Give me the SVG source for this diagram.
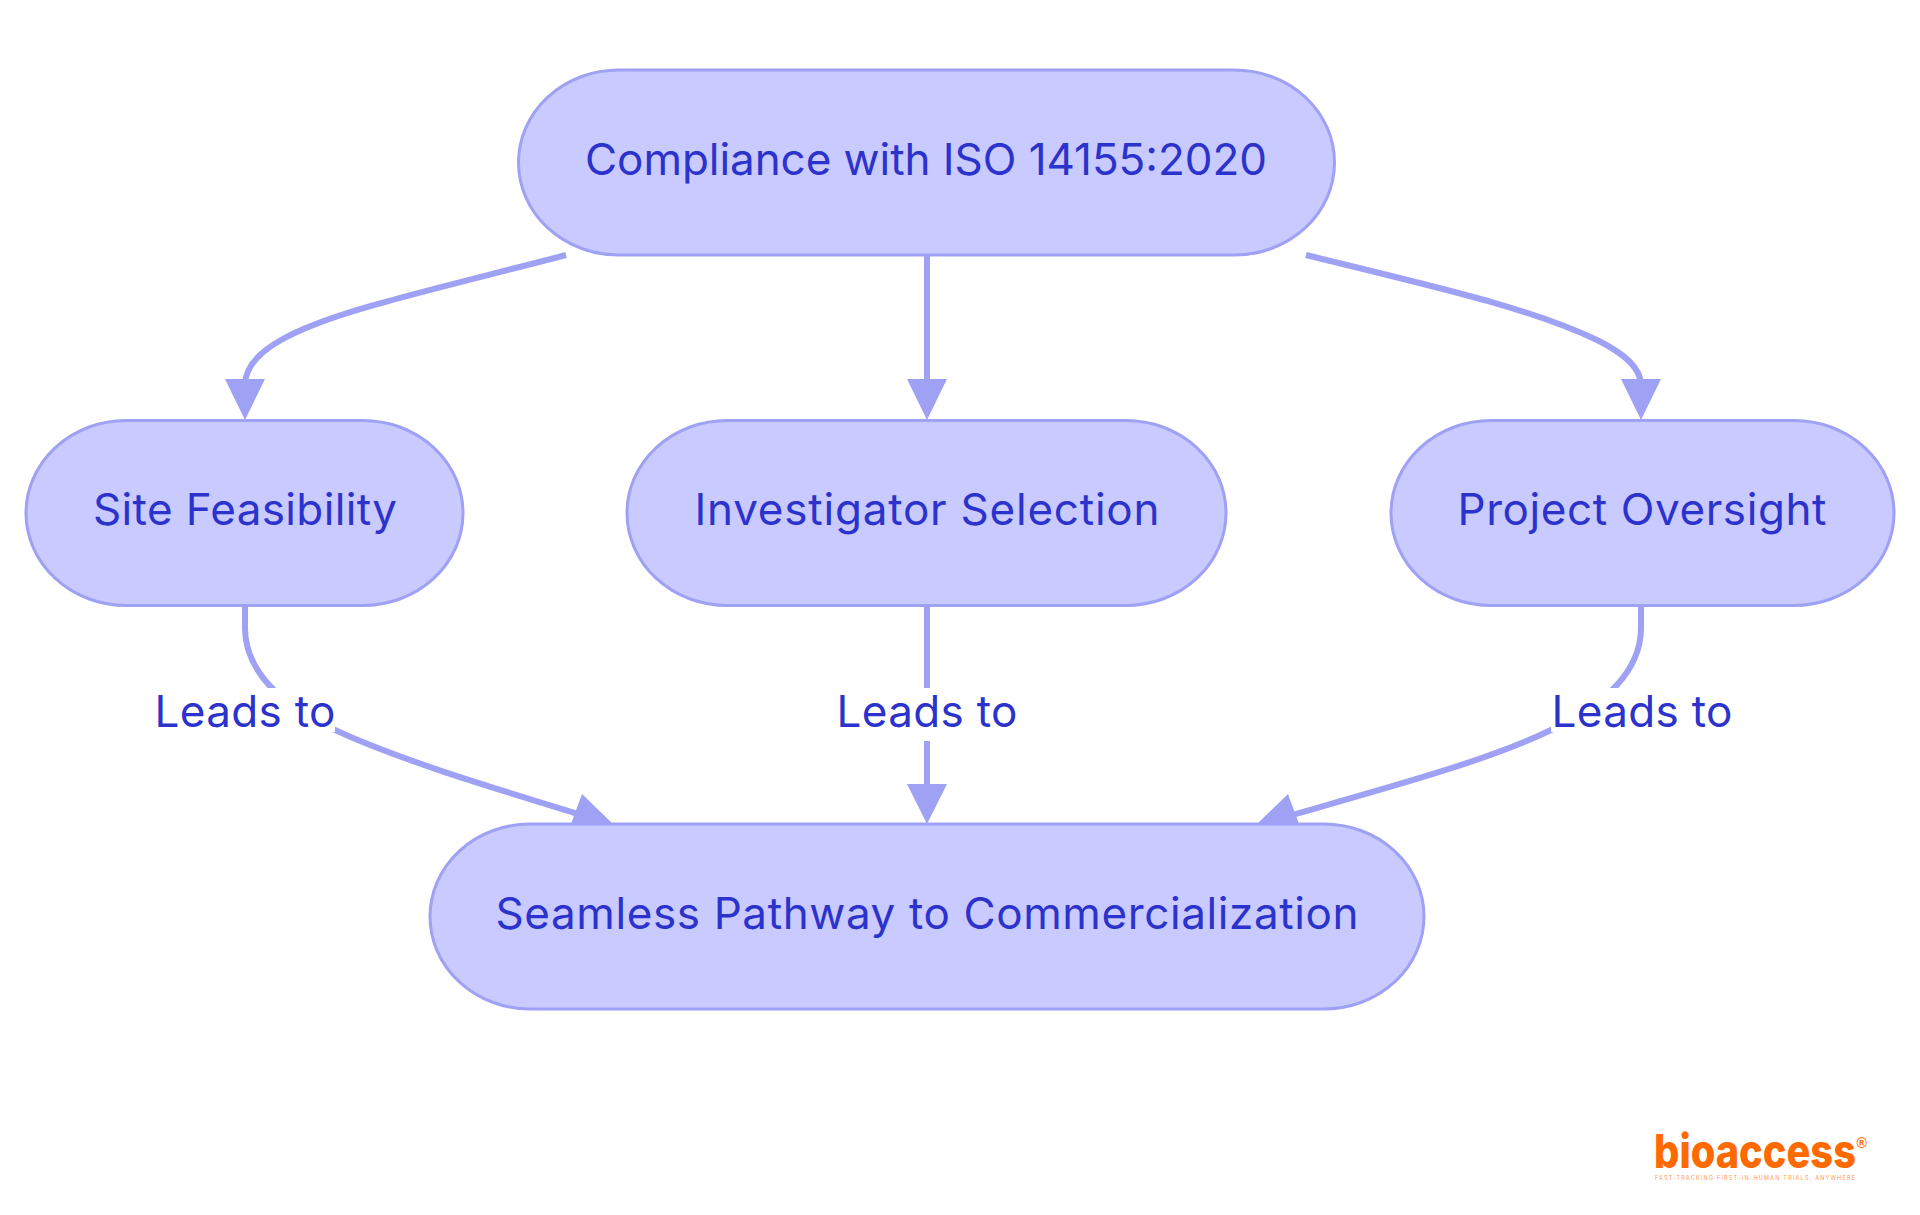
<svg xmlns="http://www.w3.org/2000/svg" width="1920" height="1215" viewBox="0 0 1920 1215">
<style>
.n{fill:#c9caff;stroke:#9ea1f4;stroke-width:3}
.t{font-family:Inter,"Noto Sans","Liberation Sans",sans-serif;font-size:44px;fill:#2c32cc;text-anchor:middle;dominant-baseline:central}
.e{fill:none;stroke:#9ea1f4;stroke-width:6}
.a{fill:#9ea1f4}
.lb{fill:#fff}
.logo{font-family:Inter,"Liberation Sans",sans-serif;fill:#ff6a00}
</style>
<rect width="1920" height="1215" fill="#fff"/>
<g id="connectors">
<path class="e" d="M566 255C420 293 330 312 281 340C258 353 245 368 245 385"/>
<polygon class="a" points="225,379 265,379 245,420"/>
<path class="e" d="M927 255V385"/>
<polygon class="a" points="907,379 947,379 927,420"/>
<path class="e" d="M1306 255C1440 288 1530 308 1597 340C1625 354 1641 368 1641 385"/>
<polygon class="a" points="1621,379 1661,379 1641,420"/>
<path class="e" d="M245 606V628C245 670 280 705 335 730C400 760 490 787 585 816"/>
<polygon class="a" points="582,794 613,824 571,824"/>
<path class="e" d="M927 606V785"/>
<polygon class="a" points="907,784 947,784 927,824"/>
<path class="e" d="M1641 606V628C1641 670 1606 705 1551 730C1490 760 1390 787 1285 817"/>
<polygon class="a" points="1288,794 1257,824 1299,824"/>
</g>
<g id="label1"><rect class="lb" x="155" y="688" width="180" height="44"/><text class="t" x="245" y="711" textLength="181">Leads to</text></g>
<g id="label2"><rect class="lb" x="837" y="688" width="180" height="53"/><text class="t" x="927" y="711" textLength="181">Leads to</text></g>
<g id="label3"><rect class="lb" x="1551" y="688" width="181" height="44"/><text class="t" x="1642" y="711" textLength="181">Leads to</text></g>
<g id="node-compliance"><rect class="n" x="518.500" y="70" width="816" height="185" rx="100" ry="92.500"/><text class="t" x="926" y="159" textLength="682">Compliance with ISO 14155:2020</text></g>
<g id="node-site"><rect class="n" x="26" y="420.500" width="437" height="185" rx="100" ry="92.500"/><text class="t" x="245" y="509" textLength="304">Site Feasibility</text></g>
<g id="node-investigator"><rect class="n" x="627" y="420.500" width="599" height="185" rx="100" ry="92.500"/><text class="t" x="927" y="509" textLength="465">Investigator Selection</text></g>
<g id="node-project"><rect class="n" x="1391" y="420.500" width="503" height="185" rx="100" ry="92.500"/><text class="t" x="1642" y="509" textLength="369">Project Oversight</text></g>
<g id="node-pathway"><rect class="n" x="430" y="824" width="994" height="185" rx="100" ry="92.500"/><text class="t" x="927" y="913" textLength="863">Seamless Pathway to Commercialization</text></g>
<g id="logo">
<text class="logo" x="1654" y="1168" font-size="47" font-weight="800" textLength="202" lengthAdjust="spacingAndGlyphs">bioaccess</text>
<text x="1856.500" y="1148" font-size="14" font-weight="700" fill="#ff6a00" font-family="Liberation Sans,sans-serif">®</text>
<text class="logo" x="1655" y="1179.500" font-size="5.500" textLength="200" opacity="0.7">FAST-TRACKING FIRST-IN-HUMAN TRIALS, ANYWHERE</text>
</g>
</svg>
